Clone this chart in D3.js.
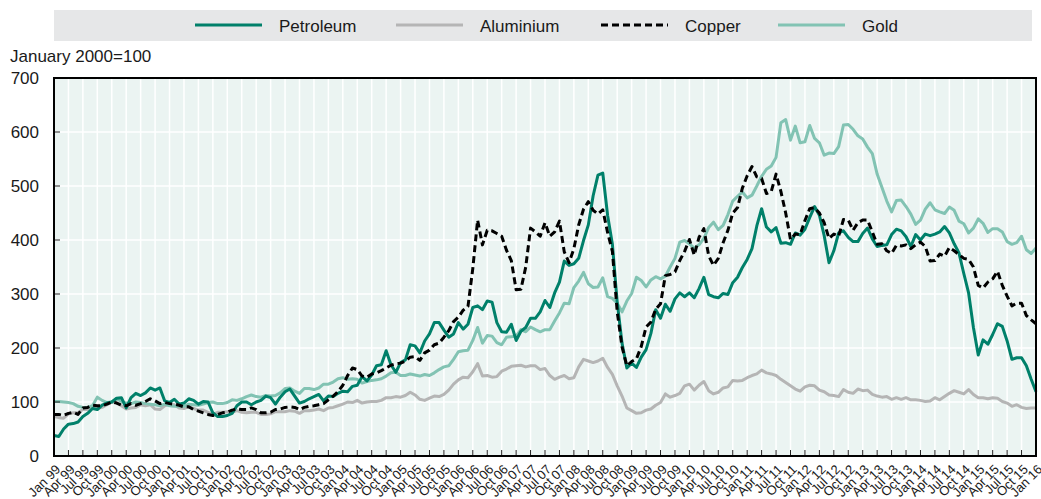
<!DOCTYPE html>
<html>
<head>
<meta charset="utf-8">
<script src="https://cdn.jsdelivr.net/npm/d3@7"></script>
<style>
  body { margin: 0; background: #fff; }
  svg text { font-family: "Liberation Sans", Arial, sans-serif; fill: #1a1a1a; }
</style>
</head>
<body>
<div class="top"></div>
<script>
// monthly index values, January 2000 = 100, Jan 99 .. Jan 16
const petroleum = [
  38, 36, 50, 59, 60, 63, 73, 79, 88, 86, 94, 98,
  100, 107, 108, 89, 108, 116, 112, 117, 126, 122, 126, 102,
  99, 105, 96, 98, 106, 103, 96, 101, 100, 80, 73, 73,
  75, 79, 93, 100, 100, 95, 100, 103, 111, 108, 96, 109,
  119, 124, 111, 98, 101, 106, 110, 114, 102, 111, 110, 116,
  120, 119, 129, 131, 147, 139, 150, 167, 169, 195, 169, 155,
  173, 178, 206, 204, 191, 213, 226, 247, 247, 233, 220, 226,
  247, 235, 244, 275, 278, 271, 287, 285, 247, 230, 229, 244,
  214, 231, 238, 255, 255, 267, 288, 275, 302, 322, 361, 353,
  356, 366, 399, 428, 482, 520, 524, 446, 392, 285, 209, 163,
  172, 164, 183, 197, 227, 271, 255, 281, 268, 291, 302, 295,
  302, 293, 310, 331, 299, 295, 293, 301, 299, 321, 331, 349,
  364, 384, 426, 458, 424, 415, 423, 394, 395, 392, 413, 409,
  420, 442, 462, 446, 408, 358, 380, 413, 417, 405, 397, 397,
  412, 422, 402, 388, 390, 391, 410, 420, 417, 406, 388, 410,
  400, 411, 408, 411, 415, 425, 413, 393, 376, 338, 302, 238,
  187, 215, 207, 225, 245, 240, 213, 179, 182, 182, 167, 142,
  119
];
const aluminium = [
  73, 71, 70, 78, 80, 80, 86, 86, 90, 88, 90, 95,
  100, 99, 93, 87, 89, 90, 95, 93, 95, 87, 86, 93,
  96, 95, 89, 88, 91, 88, 85, 85, 81, 77, 81, 81,
  82, 81, 84, 81, 80, 81, 81, 77, 77, 78, 82, 82,
  82, 84, 83, 79, 84, 84, 85, 87, 84, 89, 90, 93,
  96, 100, 99, 103, 98, 100, 101, 101, 103, 108, 108, 110,
  109, 112, 118, 113, 105, 103, 107, 111, 110, 114, 122, 133,
  141, 146, 145, 156, 171, 148, 149, 146, 147, 157, 161, 166,
  167, 168, 165, 167, 167, 160, 162, 149, 142, 146, 149, 143,
  145, 165, 179, 176, 173, 176, 181, 164, 151, 130, 111, 89,
  84, 79, 80, 85, 87, 94, 99, 115, 109, 112, 116, 130,
  133, 122, 131, 138, 121, 115, 118, 126, 128, 140, 139, 140,
  145, 149, 152, 159, 154, 152, 149, 142, 136, 130, 124, 120,
  128, 131, 130, 122, 119, 113, 112, 110, 123, 118, 116, 124,
  121, 122, 114, 111, 109, 110, 105, 108, 105, 108, 104, 104,
  103, 101, 102, 108, 104, 110, 116, 121, 118, 115, 123, 114,
  108, 108, 106, 108, 107, 101, 98, 92, 95, 90, 88, 89,
  89
];
const copper = [
  77, 77, 75, 79, 81, 77, 89, 90, 94, 93, 93, 96,
  100, 98, 94, 93, 97, 94, 97, 101, 106, 102, 97, 99,
  97, 96, 94, 91, 91, 86, 83, 80, 77, 75, 77, 80,
  81, 85, 87, 86, 86, 89, 86, 80, 80, 81, 86, 87,
  90, 91, 90, 86, 90, 92, 93, 95, 97, 104, 111, 119,
  131, 149, 163, 160, 148, 146, 152, 154, 158, 163, 168, 171,
  172, 176, 183, 184, 177, 191, 196, 206, 209, 220, 232, 249,
  257, 270, 277, 347, 437, 391, 418, 417, 412, 407, 381, 362,
  308, 309, 350, 422, 415, 407, 432, 407, 415, 435, 378, 358,
  384, 428, 457, 471, 455, 448, 456, 414, 379, 267, 202, 167,
  175, 180, 203, 239, 248, 272, 282, 334, 336, 341, 362, 379,
  401, 372, 405, 421, 371, 353, 366, 395, 418, 450, 460, 496,
  519, 536, 517, 514, 486, 490, 522, 490, 450, 401, 411, 410,
  436, 458, 460, 450, 432, 403, 411, 407, 438, 437, 418, 432,
  437, 437, 415, 392, 393, 380, 375, 390, 389, 391, 384, 391,
  396, 388, 361, 362, 374, 370, 386, 380, 373, 366, 364, 350,
  316, 311, 322, 328, 342, 316, 296, 278, 283, 283, 260, 252,
  245
];
const gold = [
  101, 101, 100, 99, 97, 92, 90, 90, 93, 109, 103, 99,
  100, 106, 101, 98, 97, 100, 99, 97, 96, 95, 93, 96,
  93, 92, 92, 92, 96, 95, 94, 96, 99, 100, 97, 97,
  99, 104, 103, 106, 110, 113, 110, 109, 112, 111, 112, 117,
  125, 126, 120, 116, 125, 125, 123, 126, 133, 133, 137, 143,
  145, 142, 143, 142, 135, 138, 140, 141, 143, 148, 154, 155,
  149, 149, 152, 150, 148, 151, 149, 154, 160, 165, 167, 179,
  193, 195, 196, 214, 238, 209, 223, 222, 210, 206, 220, 221,
  222, 234, 230, 239, 234, 230, 234, 234, 250, 265, 283, 282,
  312, 324, 340, 319, 312, 313, 330, 295, 292, 283, 267, 287,
  301, 331, 325, 313, 326, 332, 328, 333, 350, 366, 396, 399,
  393, 385, 391, 403, 423, 433, 419, 427, 447, 472, 481, 489,
  478, 483, 500, 518, 531, 537, 553, 617, 623, 585, 611, 580,
  582, 612, 588, 580, 557, 561, 560, 573, 613, 614, 605, 593,
  587, 572, 560, 522, 497, 472, 452, 473, 474, 462, 448, 429,
  437, 457, 469, 456, 452, 449, 461, 455, 435, 430, 413, 422,
  439, 431, 414, 421, 421, 415, 397, 392, 395, 407, 382, 375,
  385
];

const quarters = ['Jan', 'Apr', 'Jul', 'Oct'];
const years = ['99', '00', '01', '02', '03', '04', '05', '06', '07', '08',
               '09', '10', '11', '12', '13', '14', '15', '16'];
const yTicks = [0, 100, 200, 300, 400, 500, 600, 700];

const series = [
  {name: 'Aluminium', values: aluminium, color: '#b5b5b5', dash: null},
  {name: 'Gold', values: gold, color: '#82c3b3', dash: null},
  {name: 'Petroleum', values: petroleum, color: '#00806a', dash: null},
  {name: 'Copper', values: copper, color: '#000', dash: '7,4'}
];
const legendItems = [
  {name: 'Petroleum', x: 195},
  {name: 'Aluminium', x: 396},
  {name: 'Copper', x: 601},
  {name: 'Gold', x: 778}
];

// quarterly tick labels, Jan 99 .. Jan 16
const tickLabels = [];
years.forEach((yr, i) => quarters.forEach(q => {
  if (i < years.length - 1 || q === 'Jan') tickLabels.push(q + ' ' + yr);
}));

const W = 1041, H = 499;
const pLeft = 54, pRight = 1036, pTop = 78, pBottom = 456;

const x = d3.scaleLinear().domain([0, petroleum.length - 1]).range([pLeft, pRight]);
const y = d3.scaleLinear().domain([0, 700]).range([pBottom, pTop]);
const qIdx = tickLabels.map((d, i) => i * 3);

const svg = d3.select('.top').append('svg')
  .attr('width', W).attr('height', H);

// legend
svg.append('rect')
  .attr('x', pLeft).attr('y', 10)
  .attr('width', 978).attr('height', 31)
  .attr('fill', '#e6e7e8');

svg.selectAll('.leg').data(legendItems)
  .join('g').attr('class', 'leg')
  .attr('transform', d => `translate(${d.x},25)`)
  .call(sel => {
    sel.append('line')
      .attr('x1', 0).attr('x2', 67)
      .attr('stroke', d => series.find(s => s.name === d.name).color)
      .attr('stroke-width', 3)
      .attr('stroke-dasharray', d => series.find(s => s.name === d.name).dash);
    sel.append('text')
      .attr('x', 84).attr('y', 7)
      .style('font-size', '17px')
      .text(d => d.name);
  });

svg.append('text')
  .attr('x', 10).attr('y', 62)
  .style('font-size', '17px')
  .text('January 2000=100');

// plot area
svg.append('rect')
  .attr('x', pLeft).attr('y', pTop)
  .attr('width', pRight - pLeft).attr('height', pBottom - pTop)
  .attr('fill', '#ebf4f2');

svg.append('g')
  .selectAll('line').data(qIdx.slice(1, -1))
  .join('line')
    .attr('x1', d => x(d)).attr('x2', d => x(d))
    .attr('y1', pTop).attr('y2', pBottom)
    .attr('stroke', '#fff').attr('stroke-width', 1.5);

svg.append('g')
  .selectAll('line').data(yTicks.slice(1, -1))
  .join('line')
    .attr('x1', pLeft).attr('x2', pRight)
    .attr('y1', d => y(d)).attr('y2', d => y(d))
    .attr('stroke', '#fff').attr('stroke-width', 1.5);

const line = d3.line().x((d, i) => x(i)).y(d => y(d));

svg.append('g')
  .selectAll('path').data(series)
  .join('path')
    .attr('d', d => line(d.values))
    .attr('fill', 'none')
    .attr('stroke', d => d.color)
    .attr('stroke-width', 3)
    .attr('stroke-linejoin', 'round')
    .attr('stroke-dasharray', d => d.dash);

// ticks pointing inward
svg.append('g')
  .selectAll('line').data(qIdx.slice(1, -1))
  .join('line')
    .attr('x1', d => x(d)).attr('x2', d => x(d))
    .attr('y1', pBottom).attr('y2', pBottom - 6)
    .attr('stroke', '#222').attr('stroke-width', 1);

svg.append('g')
  .selectAll('line').data(yTicks.slice(1, -1))
  .join('line')
    .attr('x1', pLeft).attr('x2', pLeft + 6)
    .attr('y1', d => y(d)).attr('y2', d => y(d))
    .attr('stroke', '#222').attr('stroke-width', 1);

svg.append('rect')
  .attr('x', pLeft).attr('y', pTop)
  .attr('width', pRight - pLeft).attr('height', pBottom - pTop)
  .attr('fill', 'none')
  .attr('stroke', '#000').attr('stroke-width', 2);

// y labels
svg.append('g')
  .selectAll('text').data(yTicks)
  .join('text')
    .attr('x', 39)
    .attr('y', d => y(d))
    .attr('dy', '0.35em')
    .attr('text-anchor', 'end')
    .style('font-size', '17px')
    .text(d => d);

// x labels
svg.append('g')
  .selectAll('text').data(tickLabels)
  .join('text')
    .attr('transform', (d, i) => `translate(${x(qIdx[i]) + 4},467) rotate(-45)`)
    .attr('text-anchor', 'end')
    .attr('dy', '0.35em')
    .style('font-size', '13px')
    .text(d => d);
</script>
</body>
</html>
